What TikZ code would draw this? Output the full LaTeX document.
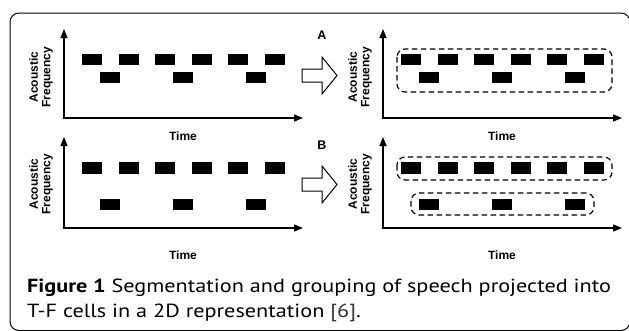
\documentclass[tikz,border=0pt]{standalone}
\usepackage{fontspec}
\setmainfont{PT Sans}
\newfontfamily\capfont[FakeStretch=1.17]{PT Sans}
\newfontfamily\helv{Liberation Sans}
\usetikzlibrary{arrows.meta}

\begin{document}
\begin{tikzpicture}[x=1pt,y=-1pt,
  axis/.style={line width=1.3pt,{Triangle[length=9pt,width=7pt]}-{Triangle[length=9pt,width=7pt]}},
  cell/.style={fill=black,draw=none,minimum width=20pt,minimum height=11.5pt,inner sep=0pt},
  grp/.style={line width=1.2pt,dash pattern=on 5.5pt off 3.5pt,rounded corners=8pt},
  axlbl/.style={font=\helv\bfseries\fontsize{12}{12.5}\selectfont,align=center,inner sep=0pt},
  tag/.style={font=\helv\bfseries\fontsize{12.5}{13}\selectfont,inner sep=0pt},
  hollow/.style={line width=1pt,line join=miter,fill=white},
  caption/.style={font=\capfont\fontsize{19}{22}\selectfont,anchor=base west,inner sep=0pt}
]
\useasboundingbox (0,0) rectangle (629,330);
\clip (0,0) rectangle (629,330);

% outer frame
\draw[line width=1pt,rounded corners=9pt] (10,13) rectangle (630,330.5);

% ---- axes of the four panels ----
\foreach \p/\dx/\oy/\ty in {a/0/118/29, b/319/118/29, c/0/228/137, d/319/228/137}{
  \coordinate (o\p) at (64+\dx,\oy);
  \coordinate (y\p) at (64+\dx,\ty);
  \coordinate (x\p) at (303+\dx,\oy);
  \draw[axis] (y\p) -- (o\p) -- (x\p);
}

% axis labels
\foreach \p/\dx/\fy/\tyy in {a/0/77/136, b/319/77/136, c/0/184/255, d/319/184/255}{
  \node[axlbl,rotate=90] (f\p) at (41+\dx,\fy) {Acoustic\\Frequency};
  \node[axlbl] (t\p) at (183+\dx,\tyy) {Time};
}

% ---- T-F cells ----
\foreach \p/\dx/\ra/\rb in {a/0/59.5/77.5, b/319/59.5/77.5, c/0/168/204.5, d/319/168/204.5}{
  \foreach \i in {0,...,5}{
    \node[cell] (\p u\i) at (92+36.5*\i+\dx,\ra) {};
  }
  \foreach \i in {0,1,2}{
    \node[cell] (\p l\i) at (110.25+73*\i+\dx,\rb) {};
  }
}

% ---- grouping outlines ----
\draw[grp] (397,49) rectangle (612,92);
\draw[grp] (397,157) rectangle (612,180);
\draw[grp] (411,193) rectangle (594,215);

% ---- panel tags and transition arrows ----
\node[tag] (tagA) at (322,35) {A};
\node[tag] (tagB) at (322,145) {B};
\foreach \cy in {75.5,184.5}{
  \draw[hollow] (302,\cy-6.5) -- (322,\cy-6.5) -- (322,\cy-18.5) -- (337,\cy)
    -- (322,\cy+18.5) -- (322,\cy+6.5) -- (302,\cy+6.5) -- cycle;
}

% ---- caption ----
\node[caption] (cap1) at (27,292) {\textbf{Figure 1} Segmentation and grouping of speech projected into};
\node[caption] (cap2) at (27,317) {T-F cells in a 2D representation \textcolor{black!80}{[6]}.};
\end{tikzpicture}
\end{document}
